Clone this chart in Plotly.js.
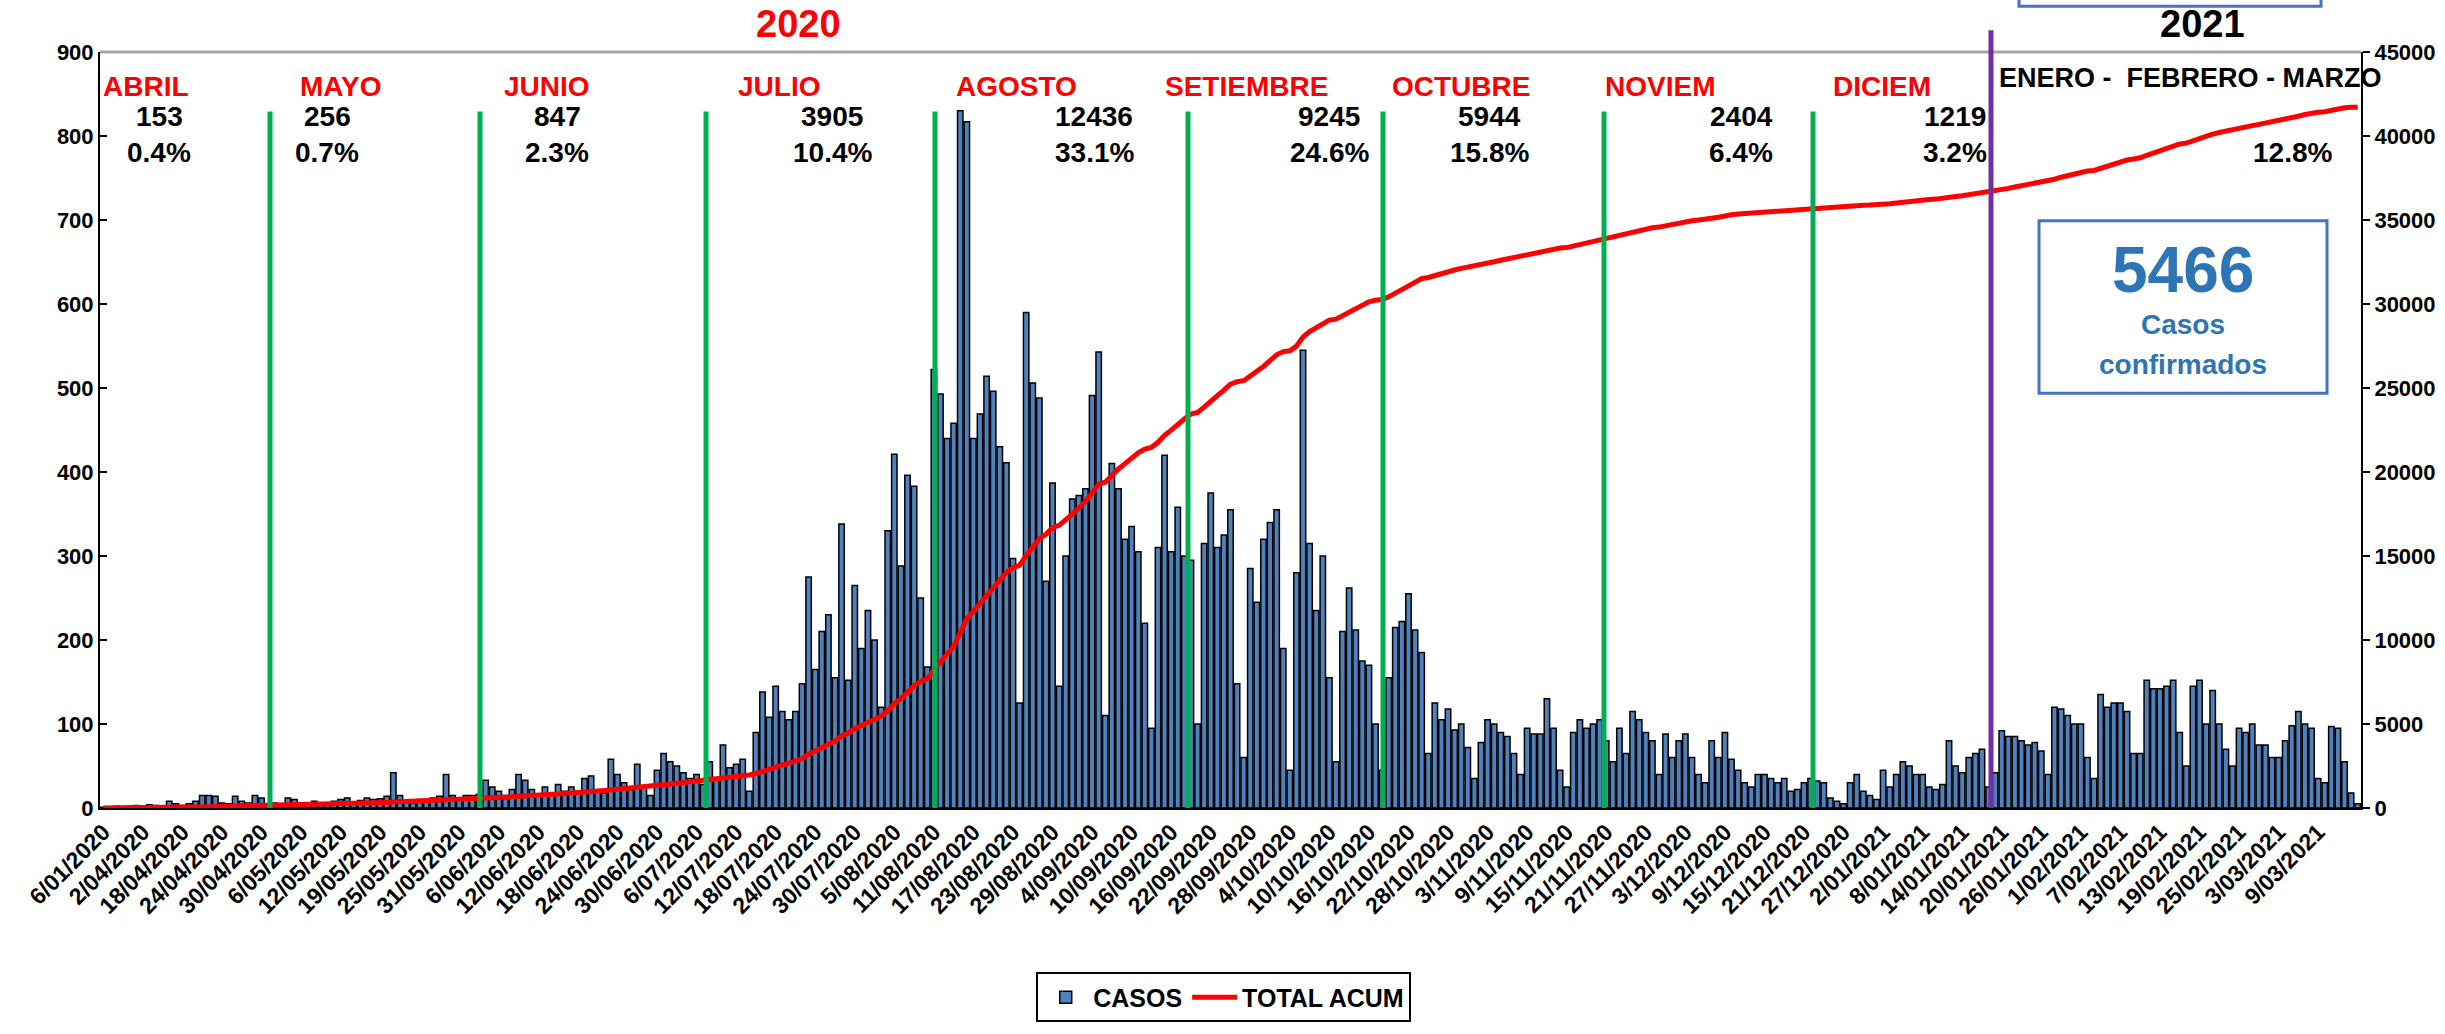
<!DOCTYPE html>
<html>
<head>
<meta charset="utf-8">
<script src="https://cdn.plot.ly/plotly-3.0.1.min.js"></script>
<style>html,body{margin:0;padding:0;background:#fff;}#chart{width:2445px;height:1034px;}</style>
</head>
<body>
<div id="chart"></div>
<script>
// ---------------- DATA ----------------
// Daily confirmed cases (CASOS), grouped by month
const casosMarAbr = [1,1,2,1,2,3,2,4,3,2,8,5,3,5,8,15,15,14,6,5,14,8,6,15,12];
const casosMay = [5,6,4,12,10,6,5,8,6,5,8,10,12,7,9,12,10,11,14,42,15,8,6,10,8,12,14,40,15,12];
const casosJun = [15,15,16,33,25,20,15,22,40,33,22,15,25,18,28,20,25,20,35,38,20,18,58,40,30,22,52,25,15,45];
const casosJul = [65,55,50,42,35,40,28,55,35,75,48,52,58,20,90,138,108,145,115,105,115,148,275,165,210,230,155,338,152,265,190];
const casosAgo = [235,200,120,330,421,288,396,383,250,168,522,493,440,458,830,817,440,469,514,496,430,411,297,125,590,506,488,270,387,145,300];
const casosSet = [368,372,380,491,543,110,410,380,320,335,305,220,95,310,420,305,358,300,295,100,315,375,310,325,355,148,60,285,245,320];
const casosOct = [340,355,190,45,280,545,315,235,300,155,55,210,262,212,175,170,100,45,155,215,222,255,212,185,65,125,105,118,93,100,72];
const casosNov = [35,78,105,100,90,85,65,40,95,88,88,130,95,45,25,90,105,95,100,105,80,55,95,65,115,105,90,80,40,88];
const casosDic = [60,80,88,60,40,30,80,60,90,58,45,30,25,40,40,35,30,35,20,22,30,35,32,30,12,8,5,30,40,20,15];
const casosEne = [10,45,25,40,55,50,40,40,25,22,28,80,50,42,60,65,70,25,42,92,85,85,80,75,78,68,40,120,118,110,100];
const casosFeb = [100,60,35,135,120,125,125,115,65,65,152,142,142,145,152,90,50,145,152,100,140,100,70,50,95,90,100,75];
const casosMar = [75,60,60,80,98,115,100,95,35,30,97,95,55,18,5];

// Irregular first report dates, then daily from 18/04/2020 (one day missing in May)
const firstDates = ['6/01/2020','27/03/2020','28/03/2020','29/03/2020','30/03/2020','31/03/2020','2/04/2020','5/04/2020','8/04/2020','10/04/2020','12/04/2020','15/04/2020'];
const dailyStart = '18/04/2020';
const missingDates = ['17/05/2020'];

const tickLabels = ['6/01/2020','2/04/2020','18/04/2020','24/04/2020','30/04/2020','6/05/2020','12/05/2020','19/05/2020','25/05/2020','31/05/2020','6/06/2020','12/06/2020','18/06/2020','24/06/2020','30/06/2020','6/07/2020','12/07/2020','18/07/2020','24/07/2020','30/07/2020','5/08/2020','11/08/2020','17/08/2020','23/08/2020','29/08/2020','4/09/2020','10/09/2020','16/09/2020','22/09/2020','28/09/2020','4/10/2020','10/10/2020','16/10/2020','22/10/2020','28/10/2020','3/11/2020','9/11/2020','15/11/2020','21/11/2020','27/11/2020','3/12/2020','9/12/2020','15/12/2020','21/12/2020','27/12/2020','2/01/2021','8/01/2021','14/01/2021','20/01/2021','26/01/2021','1/02/2021','7/02/2021','13/02/2021','19/02/2021','25/02/2021','3/03/2021','9/03/2021'];

// Month annotations
const monthNames = ['ABRIL','MAYO','JUNIO','JULIO','AGOSTO','SETIEMBRE','OCTUBRE','NOVIEM','DICIEM'];
const monthTotals = ['153','256','847','3905','12436','9245','5944','2404','1219'];
const monthPercents = ['0.4%','0.7%','2.3%','10.4%','33.1%','24.6%','15.8%','6.4%','3.2%'];
const lastPeriodLabel = 'ENERO -\u00a0 FEBRERO - MARZO';
const lastPeriodPercent = '12.8%';
const totalCasos = '5466';
const totalCasosLabel = ['Casos','confirmados'];
const yearLabels = ['2020','2021'];
const seriesNames = ['CASOS','TOTAL ACUM'];

// ---------------- BUILD ----------------
const casos = [].concat(casosMarAbr, casosMay, casosJun, casosJul, casosAgo, casosSet, casosOct, casosNov, casosDic, casosEne, casosFeb, casosMar);

function fmt(d){ return d.getUTCDate() + '/' + String(d.getUTCMonth()+1).padStart(2,'0') + '/' + d.getUTCFullYear(); }
const fechas = firstDates.slice();
(function(){
  const p = dailyStart.split('/').map(Number);
  let d = new Date(Date.UTC(p[2], p[1]-1, p[0]));
  while (fechas.length < casos.length) {
    const s = fmt(d);
    if (missingDates.indexOf(s) < 0) fechas.push(s);
    d = new Date(d.getTime() + 86400000);
  }
})();

// running total of the daily cases
const totalAcum = [];
casos.reduce((acc, v) => { acc += v; totalAcum.push(acc); return acc; }, 0);

// ---------------- LAYOUT HELPERS ----------------
const W = 2445, H = 1034;
const M = {l:100, r:84, t:52, b:220};
const PW = W - M.l - M.r, PH = H - M.t - M.b;
const px = x => (x - M.l) / PW;           // pixel -> paper x
const py = y => (H - M.b - y) / PH;       // pixel -> paper y
const FONT = 'Liberation Sans Narrow, Liberation Sans, Arial, sans-serif';
const N = casos.length;
const idx = x => (x - M.l) / PW * N - 0.5; // pixel -> category index

const monthX = [146, 340, 547, 779, 1016, 1246, 1461, 1660, 1882];
const numX = [159, 327, 557, 832, 1094, 1329, 1489, 1741, 1955];
const greenLineX = [270, 480, 706, 935, 1188, 1383, 1604, 1813];
const purpleX = 1991;

const annotations = [];
monthNames.forEach((m, k) => {
  annotations.push({xref:'paper', yref:'paper', x:px(monthX[k]), y:py(87), text:m, showarrow:false,
    font:{family:FONT, size:28, color:'#FF0000', weight:'bold'}, xanchor:'center', yanchor:'middle'});
  annotations.push({xref:'paper', yref:'paper', x:px(numX[k]), y:py(117), text:monthTotals[k], showarrow:false,
    font:{family:FONT, size:28, color:'#000', weight:'bold'}, xanchor:'center', yanchor:'middle'});
  annotations.push({xref:'paper', yref:'paper', x:px(numX[k]), y:py(153), text:monthPercents[k], showarrow:false,
    font:{family:FONT, size:28, color:'#000', weight:'bold'}, xanchor:'center', yanchor:'middle'});
});
annotations.push({xref:'paper', yref:'paper', x:px(2190), y:py(78), text:lastPeriodLabel, showarrow:false,
  font:{family:FONT, size:27, color:'#000', weight:'bold'}, xanchor:'center', yanchor:'middle'});
annotations.push({xref:'paper', yref:'paper', x:px(2292), y:py(153), text:lastPeriodPercent, showarrow:false,
  font:{family:FONT, size:28, color:'#000', weight:'bold'}, xanchor:'center', yanchor:'middle'});
annotations.push({xref:'paper', yref:'paper', x:px(798), y:py(24), text:yearLabels[0], showarrow:false,
  font:{family:FONT, size:38, color:'#FF0000', weight:'bold'}, xanchor:'center', yanchor:'middle'});
annotations.push({xref:'paper', yref:'paper', x:px(2202), y:py(24), text:yearLabels[1], showarrow:false,
  font:{family:FONT, size:38, color:'#000', weight:'bold'}, xanchor:'center', yanchor:'middle'});
annotations.push({xref:'paper', yref:'paper', x:px(2183), y:py(272), text:totalCasos, showarrow:false,
  font:{family:FONT, size:64, color:'#2E75B6', weight:'bold'}, xanchor:'center', yanchor:'middle'});
annotations.push({xref:'paper', yref:'paper', x:px(2183), y:py(327), text:totalCasosLabel[0], showarrow:false,
  font:{family:FONT, size:28, color:'#2E75B6', weight:'bold'}, xanchor:'center', yanchor:'middle'});
annotations.push({xref:'paper', yref:'paper', x:px(2183), y:py(367), text:totalCasosLabel[1], showarrow:false,
  font:{family:FONT, size:28, color:'#2E75B6', weight:'bold'}, xanchor:'center', yanchor:'middle'});

const shapes = [
  // top border line
  {type:'line', xref:'paper', yref:'paper', x0:0, x1:1, y0:1, y1:1, line:{color:'#A6A6A6', width:3}, layer:'below'},
];
greenLineX.forEach(x => shapes.push({type:'line', xref:'x', yref:'paper', x0:idx(x), x1:idx(x), y0:0, y1:py(112),
  line:{color:'#00B050', width:5}, layer:'above'}));
shapes.push({type:'line', xref:'x', yref:'paper', x0:idx(purpleX), x1:idx(purpleX), y0:0, y1:py(30),
  line:{color:'#7030A0', width:5}, layer:'above'});
// boxes
shapes.push({type:'rect', xref:'paper', yref:'paper', x0:px(2039), x1:px(2327), y0:py(396), y1:py(222),
  line:{color:'#4472C4', width:3}, fillcolor:'rgba(255,255,255,0)', layer:'above'});
shapes.push({type:'rect', xref:'paper', yref:'paper', x0:px(2019), x1:px(2321), y0:py(6), y1:py(-40),
  line:{color:'#4472C4', width:3}, fillcolor:'rgba(255,255,255,0)', layer:'above'});

const traces = [
  {type:'bar', name:seriesNames[0], x:fechas, y:casos, yaxis:'y',
   marker:{color:'#4F81BD', line:{color:'#000', width:1.5}}},
  {type:'scatter', mode:'lines', name:seriesNames[1], x:fechas, y:totalAcum, yaxis:'y2',
   line:{color:'#FF0000', width:5}}
];

const layout = {
  width:W, height:H,
  margin:{l:M.l, r:M.r, t:M.t, b:M.b, pad:0},
  paper_bgcolor:'#fff', plot_bgcolor:'#fff',
  bargap:0.18,
  showlegend:true,
  legend:{orientation:'h', x:0.497, xanchor:'center', y:py(1005), yanchor:'middle',
    bordercolor:'#000', borderwidth:2, font:{family:FONT, size:25, color:'#000', weight:'bold'},
    itemwidth:45, bgcolor:'#fff'},
  xaxis:{type:'category', tickmode:'array', tickvals:tickLabels, ticktext:tickLabels, tickangle:-45,
    tickfont:{family:FONT, size:23, color:'#000', weight:'bold'}, showline:true, linecolor:'#000', linewidth:1.5,
    showgrid:false, zeroline:false, ticks:'', range:[-0.5, N-0.5]},
  yaxis:{range:[0,900], dtick:100, tickfont:{family:FONT, size:22, color:'#000', weight:'bold'},
    showline:true, linecolor:'#000', linewidth:2, ticks:'inside', ticklen:7, tickwidth:2, tickcolor:'#000',
    showgrid:false, zeroline:false},
  yaxis2:{range:[0,45000], dtick:5000, tickformat:'d', overlaying:'y', side:'right',
    tickfont:{family:FONT, size:22, color:'#000', weight:'bold'},
    showline:true, linecolor:'#000', linewidth:2, ticks:'outside', ticklen:7, tickwidth:2, tickcolor:'#000',
    showgrid:false, zeroline:false},
  annotations:annotations,
  shapes:shapes
};

Plotly.newPlot('chart', traces, layout, {displayModeBar:false, staticPlot:true});
</script>
</body>
</html>
